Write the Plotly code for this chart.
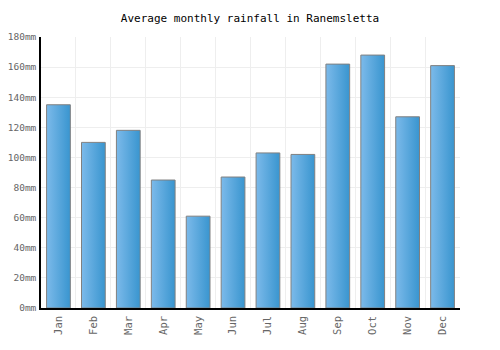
import plotly.graph_objects as go

months = ["Jan", "Feb", "Mar", "Apr", "May", "Jun", "Jul", "Aug", "Sep", "Oct", "Nov", "Dec"]
rainfall = [135, 110, 118, 85, 61, 87, 103, 102, 162, 168, 127, 161]
y_ticks = [0, 20, 40, 60, 80, 100, 120, 140, 160, 180]

half = 0.34
fig = go.Figure()
for i, v in enumerate(rainfall):
    fig.add_trace(go.Scatter(
        x=[i - half, i + half, i + half, i - half, i - half],
        y=[0, 0, v, v, 0],
        fill="toself",
        mode="lines",
        line=dict(color="#808080", width=1),
        fillgradient=dict(type="horizontal",
                          colorscale=[[0, "#7cbaea"], [1, "#3995cf"]]),
        hoverinfo="text",
        text=f"{months[i]}: {v}mm",
        showlegend=False,
    ))

font_family = "DejaVu Sans Mono"
fig.update_layout(
    width=500, height=350,
    margin=dict(l=41, r=40, t=37, b=42),
    paper_bgcolor="white", plot_bgcolor="white",
    title=dict(text="Average monthly rainfall in Ranemsletta", x=0.5, xanchor="center",
               y=0.948, yanchor="middle",
               font=dict(family=font_family, size=11, color="#000")),
    font=dict(family=font_family, size=10, color="#666"),
    xaxis=dict(
        range=[-0.5, 11.5], tickvals=list(range(12)), ticktext=months,
        tickangle=-90, showgrid=False, zeroline=False, automargin=False,
        showline=True, linecolor="#000", linewidth=1.5,
        ticks="", ticklabelstandoff=2,
        tickfont=dict(family=font_family, size=10.5, color="#666"),
        minor=dict(tick0=0.5, dtick=1, showgrid=True, gridcolor="#eeeeee", gridwidth=1, ticks=""),
    ),
    yaxis=dict(
        range=[0, 180], tickvals=y_ticks, ticktext=[f"{t}mm" for t in y_ticks],
        showgrid=True, gridcolor="#eeeeee", gridwidth=1, zeroline=False, automargin=False,
        showline=True, linecolor="#000", linewidth=1.5, ticks="", ticklabelstandoff=1,
        tickfont=dict(family=font_family, size=9.5, color="#666"),
    ),
)
fig.write_html("out.html")
